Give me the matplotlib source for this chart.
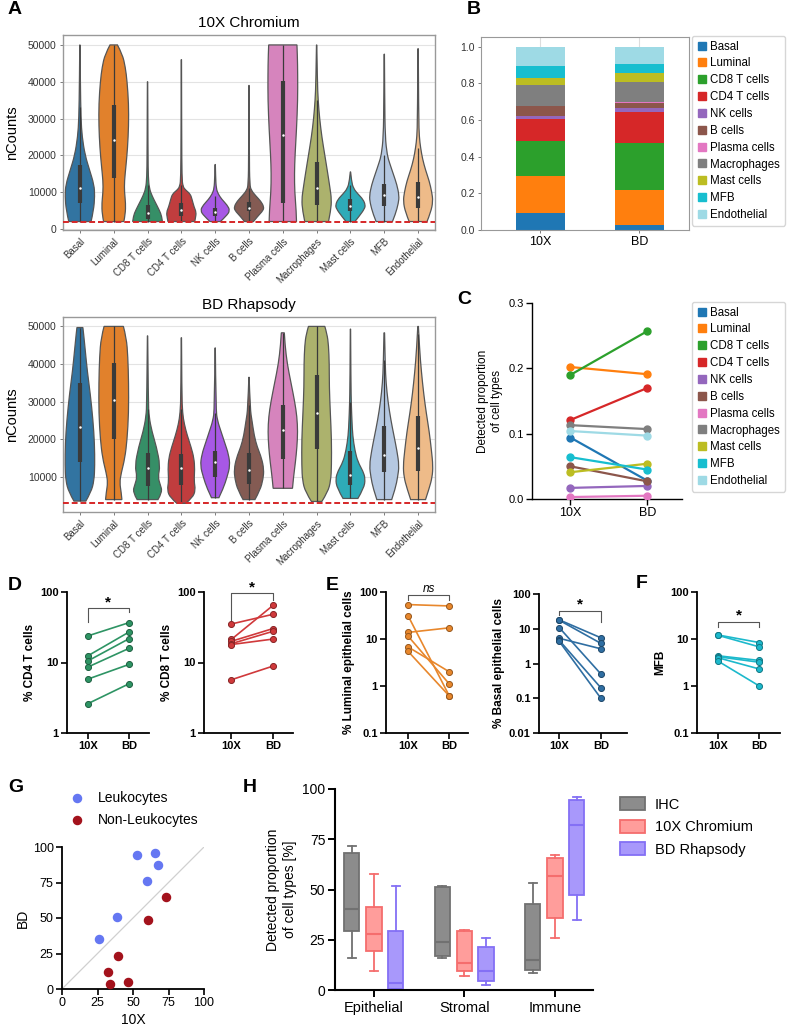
import numpy as np
import matplotlib
matplotlib.use('Agg')
import matplotlib.pyplot as plt
from matplotlib.path import Path
from matplotlib.patches import PathPatch, Patch
from matplotlib.lines import Line2D
import colorsys
import matplotlib.colors as mcolors

plt.rcParams['font.family'] = ['Liberation Sans', 'DejaVu Sans']

# ---------------- DATA ----------------
cell_types = ['Basal', 'Luminal', 'CD8 T cells', 'CD4 T cells', 'NK cells', 'B cells',
              'Plasma cells', 'Macrophages', 'Mast cells', 'MFB', 'Endothelial']

# violin density profiles: (nCounts level, relative half-width)
tenx_shapes = [
    [(2000, .75), (5000, .92), (9000, 1.0), (12000, .95), (16000, .65), (20000, .35), (25000, .15), (30000, .07), (40000, .03), (50000, .01)],
    [(2000, .68), (4000, .78), (7000, .8), (10000, .72), (13000, .72), (17000, .82), (22000, .93), (28000, 1.0), (34000, 1.0), (40000, .9), (44000, .78), (47500, .58), (50000, .25)],
    [(2000, 1.0), (3500, .95), (5000, .8), (7000, .55), (9000, .3), (11000, .12), (14000, .05), (20000, .03), (40000, .01)],
    [(2000, .9), (3000, .95), (4500, 1.0), (6000, .85), (8000, .72), (9500, .6), (10500, .3), (11500, .1), (14000, .04), (25000, .02), (46000, .01)],
    [(2000, .35), (3500, .75), (5000, 1.0), (6500, .8), (8000, .45), (9500, .2), (11000, .07), (14000, .03), (17500, .01)],
    [(2000, .3), (3500, .6), (5000, .95), (6000, 1.0), (7500, .8), (9000, .45), (10500, .15), (12000, .05), (20000, .02), (39000, .01)],
    [(2000, .92), (5000, .9), (10000, .8), (15000, .78), (20000, .82), (27000, .92), (35000, 1.0), (42000, 1.0), (47000, .98), (50000, .95)],
    [(2000, .8), (5000, .95), (8000, 1.0), (11000, .9), (15000, .75), (20000, .55), (25000, .35), (30000, .2), (35000, .1), (40000, .05), (50000, .01)],
    [(2000, .3), (3500, .6), (5500, .95), (6500, 1.0), (8000, .85), (9500, .5), (11000, .2), (13000, .07), (15500, .01)],
    [(2000, .55), (4000, .75), (7000, .95), (9000, 1.0), (12000, .85), (15000, .6), (18000, .35), (20000, .2), (25000, .06), (35000, .03), (47500, .01)],
    [(2000, .6), (4500, .85), (7500, 1.0), (10000, .92), (13000, .75), (16000, .5), (19000, .3), (22000, .17), (25000, .08), (30000, .04), (49000, .01)],
]
tenx_q1 = [7000, 13800, 2800, 3400, 3600, 4800, 7000, 6500, 4800, 6300, 5800]
tenx_median = [11200, 24200, 4400, 5200, 4700, 5700, 25600, 11200, 6300, 9100, 8800]
tenx_q3 = [17400, 33800, 6500, 7000, 5800, 7200, 40300, 18200, 8000, 12300, 12800]
tenx_whislo = [2000, 2000, 2000, 2000, 2000, 2000, 2000, 2000, 2000, 2000, 2000]
tenx_whishi = [33000, 50000, 12000, 12000, 9000, 11000, 50000, 35000, 12000, 20000, 22000]
tenx_threshold = 2000

bd_shapes = [
    [(3600, .4), (6000, .75), (9000, .95), (13000, 1.0), (19000, .98), (25000, .88), (32000, .7), (38000, .5), (44000, .35), (48000, .25), (49700, .2)],
    [(4000, .55), (6000, .5), (8500, .4), (11000, .5), (15000, .75), (20000, .9), (27000, 1.0), (35000, 1.0), (42000, .95), (47000, .85), (50000, .65)],
    [(4000, .7), (6000, 1.0), (8000, .85), (10000, .7), (13000, .85), (18000, .6), (22000, .3), (26000, .1), (30000, .05), (47500, .01)],
    [(3000, .3), (4500, .75), (6500, .95), (9000, .85), (12000, .9), (15000, .85), (18000, .65), (21000, .4), (24000, .2), (27000, .08), (32000, .03), (47000, .01)],
    [(4500, .25), (7000, .55), (10000, .8), (13000, 1.0), (16000, .9), (19000, .65), (22000, .4), (25000, .15), (28000, .05), (44300, .01)],
    [(4000, .4), (6500, .75), (9500, .95), (12000, 1.0), (15000, .85), (18000, .55), (21000, .35), (25000, .2), (28000, .08), (36500, .01)],
    [(7000, .65), (10000, .72), (14000, .85), (18000, .95), (22000, 1.0), (26000, .95), (30000, .8), (35000, .55), (40000, .3), (45000, .15), (48300, .1)],
    [(3500, .35), (6000, .75), (9000, .95), (13000, 1.0), (20000, 1.0), (27000, .92), (34000, .85), (40000, .85), (45000, .8), (48000, .7), (50000, .55)],
    [(4300, .5), (7000, .9), (9500, 1.0), (11500, .85), (14000, .5), (17000, .3), (21000, .15), (25000, .1), (29000, .06), (35000, .03), (49300, .01)],
    [(4000, .5), (7000, .75), (10000, .9), (13000, 1.0), (17000, .85), (21000, .65), (25000, .45), (30000, .25), (35000, .12), (40000, .06), (48300, .02)],
    [(4000, .5), (7000, .75), (10000, .95), (13000, 1.0), (17000, .9), (22000, .75), (27000, .55), (32000, .38), (38000, .22), (44000, .1), (50000, .02)],
]
bd_q1 = [14000, 20000, 7500, 8000, 10000, 8200, 14800, 17500, 8000, 11200, 11500]
bd_median = [23300, 30500, 12300, 12300, 14000, 11800, 22500, 27000, 10500, 15800, 17800]
bd_q3 = [35000, 40200, 16500, 16200, 17000, 16500, 29000, 37200, 17000, 23500, 26200]
bd_whislo = [3600, 4000, 4000, 3000, 4500, 4000, 7000, 3500, 4300, 4000, 4000]
bd_whishi = [49700, 50000, 28000, 28000, 27000, 29000, 48300, 50000, 30000, 41000, 48000]
bd_threshold = 3000

# proportions (panels B and C)
platforms = ['10X', 'BD']
prop_10x = [0.094, 0.202, 0.190, 0.121, 0.017, 0.050, 0.003, 0.113, 0.041, 0.064, 0.104]
prop_bd = [0.028, 0.191, 0.257, 0.170, 0.020, 0.027, 0.005, 0.107, 0.054, 0.045, 0.097]

# paired sample data (panels D-F)
cd4_10x = [23.8, 12.4, 10.5, 8.6, 5.8, 2.6]
cd4_bd = [36.8, 27.1, 21.8, 15.9, 9.4, 5.0]
cd8_10x = [35.2, 21.3, 20.0, 18.5, 18.0, 5.7]
cd8_bd = [48.3, 64.6, 30.3, 27.7, 21.5, 8.9]
lum_10x = [54.0, 31.6, 13.8, 11.6, 6.8, 5.5]
lum_bd = [50.5, 0.61, 17.3, 1.1, 2.0, 0.61]
bas_10x = [18.0, 17.5, 10.7, 5.3, 4.6, 4.3]
bas_bd = [5.5, 3.8, 0.5, 2.65, 0.2, 0.1]
mfb_10x = [12.2, 12.0, 4.4, 4.2, 4.0, 3.4]
mfb_bd = [8.4, 6.8, 3.5, 3.2, 2.3, 1.0]

# panel G
leuko_10x = [26.0, 38.6, 52.9, 60.0, 65.8, 67.4]
leuko_bd = [35.2, 50.9, 94.6, 76.3, 95.8, 87.6]
nonleuko_10x = [32.1, 33.7, 39.1, 46.4, 60.9, 73.5]
nonleuko_bd = [12.2, 3.8, 23.2, 4.9, 48.8, 64.6]

# panel H  (groups: Epithelial, Stromal, Immune)
h_groups = ['Epithelial', 'Stromal', 'Immune']
h_methods = ['IHC', '10X Chromium', 'BD Rhapsody']
ihc_lo = [16.1, 16.0, 8.3]
ihc_q1 = [29.6, 17.1, 10.0]
ihc_med = [40.4, 23.9, 14.8]
ihc_q3 = [68.0, 51.0, 43.0]
ihc_hi = [71.8, 51.8, 53.2]
chr_lo = [9.5, 7.1, 25.9]
chr_q1 = [19.4, 9.6, 36.0]
chr_med = [27.9, 13.6, 56.5]
chr_q3 = [41.2, 29.4, 65.8]
chr_hi = [57.6, 29.9, 67.3]
rha_lo = [0.3, 2.7, 34.9]
rha_q1 = [0.7, 4.3, 47.3]
rha_med = [3.5, 9.6, 81.9]
rha_q3 = [29.4, 21.4, 94.7]
rha_hi = [51.8, 25.9, 96.0]

# ---------------- STYLE ----------------
violin_colors = ['#1f77b4', '#ff7f0e', '#279e68', '#d62728', '#aa40fc', '#8c564b',
                 '#e377c2', '#b5bd61', '#17becf', '#aec7e8', '#ffbb78']
bar_colors = ['#1f77b4', '#ff7f0e', '#2ca02c', '#d62728', '#9467bd', '#8c564b',
              '#e377c2', '#7f7f7f', '#bcbd22', '#17becf', '#9edae5']

W, H = 788, 1035
fig = plt.figure(figsize=(W / 100, H / 100), dpi=100)


def ax_px(l, t, r, b):
    return fig.add_axes([l / W, 1 - b / H, (r - l) / W, (b - t) / H])


def desat(c, prop=0.75):
    r, g, b = mcolors.to_rgb(c)
    h, l, s = colorsys.rgb_to_hls(r, g, b)
    return colorsys.hls_to_rgb(h, l, s * prop)


def smooth_side(pts):
    v, c = [], []
    if len(pts) == 2:
        return [pts[1]], [Path.LINETO]
    for k in range(1, len(pts) - 1):
        end = pts[k + 1] if k == len(pts) - 2 else ((pts[k][0] + pts[k + 1][0]) / 2, (pts[k][1] + pts[k + 1][1]) / 2)
        v += [pts[k], end]
        c += [Path.CURVE3, Path.CURVE3]
    return v, c


MAXW = 0.44


def draw_violin(ax, x, shape, color):
    right = [(x + w * MAXW, y) for y, w in shape]
    left = [(x - w * MAXW, y) for y, w in shape[::-1]]
    rv, rc = smooth_side(right)
    lv, lc = smooth_side(left)
    verts = [right[0]] + rv + [left[0]] + lv + [right[0]]
    codes = [Path.MOVETO] + rc + [Path.LINETO] + lc + [Path.CLOSEPOLY]
    ax.add_patch(PathPatch(Path(verts, codes), facecolor=color, edgecolor='#555555', lw=0.9, zorder=2))


def violin_panel(ax, shapes, q1, med, q3, lo, hi, thr, title, ylim, yticks):
    for i, sh in enumerate(shapes):
        draw_violin(ax, i, sh, desat(violin_colors[i]))
        ax.plot([i, i], [lo[i], hi[i]], color='#3a3a3a', lw=0.9, zorder=3, solid_capstyle='butt')
        ax.plot([i, i], [q1[i], q3[i]], color='#3a3a3a', lw=3.0, zorder=3, solid_capstyle='butt')
        ax.plot(i, med[i], 'o', color='white', ms=1.8, mew=0, zorder=4)
    ax.axhline(thr, color='#d62728', ls=(0, (3, 1.5)), lw=1.4, zorder=5)
    ax.set_xlim(-0.5, 10.5)
    ax.set_ylim(*ylim)
    ax.set_yticks(yticks)
    ax.set_yticklabels([str(t) for t in yticks], fontsize=7.5, color='#333333')
    ax.set_xticks(range(len(cell_types)))
    ax.set_xticklabels(cell_types, rotation=45, ha='right', rotation_mode='anchor', fontsize=7, color='#333333')
    ax.grid(axis='y', color='#e3e3e3', lw=0.8, zorder=0)
    ax.set_axisbelow(True)
    for s in ax.spines.values():
        s.set_color('#999999')
        s.set_linewidth(1.0)
    ax.tick_params(axis='both', length=2.5, width=0.6, color='#666666', pad=2)
    ax.set_ylabel('nCounts', fontsize=10.5, labelpad=6)
    ax.set_title(title, fontsize=11, pad=6)


axA1 = ax_px(63, 35, 435, 230)
violin_panel(axA1, tenx_shapes, tenx_q1, tenx_median, tenx_q3, tenx_whislo, tenx_whishi,
             tenx_threshold, '10X Chromium', (-300, 52700), [0, 10000, 20000, 30000, 40000, 50000])
axA2 = ax_px(63, 317, 435, 512)
violin_panel(axA2, bd_shapes, bd_q1, bd_median, bd_q3, bd_whislo, bd_whishi,
             bd_threshold, 'BD Rhapsody', (700, 52500), [10000, 20000, 30000, 40000, 50000])

# ---------------- B ----------------
axB = ax_px(481, 37, 689, 230)
bottoms = np.zeros(2)
for i, ct in enumerate(cell_types):
    vals = np.array([prop_10x[i], prop_bd[i]])
    axB.bar([0, 1], vals, bottom=bottoms, width=0.5, color=bar_colors[i], label=ct, zorder=2)
    bottoms += vals
axB.set_xlim(-0.6, 1.5)
axB.set_ylim(0, 1.053)
axB.set_xticks([0, 1])
axB.set_xticklabels(platforms, fontsize=9)
axB.set_yticks([0, 0.2, 0.4, 0.6, 0.8, 1.0])
axB.set_yticklabels(['0.0', '0.2', '0.4', '0.6', '0.8', '1.0'], fontsize=7.5, color='#333333')
axB.grid(axis='x', color='#dddddd', lw=0.8, zorder=3)
for s in axB.spines.values():
    s.set_color('#999999')
axB.tick_params(axis='both', length=2.5, width=0.6, color='#666666', pad=2)
hB = [Line2D([], [], marker='s', ls='', color=bar_colors[i], ms=6) for i in range(len(cell_types))]
fig.legend(hB, cell_types, loc='upper left', bbox_to_anchor=(692 / W, 1 - 36 / H), fontsize=8.3,
           handletextpad=0.2, labelspacing=0.42, borderpad=0.4, handlelength=1.0,
           frameon=True, edgecolor='#cccccc', borderaxespad=0)

# ---------------- C ----------------
axC = ax_px(532, 303, 682, 499)
for i, ct in enumerate(cell_types):
    axC.plot([0, 1], [prop_10x[i], prop_bd[i]], '-o', color=bar_colors[i], lw=1.6, ms=5, zorder=3)
axC.set_xlim(-0.5, 1.45)
axC.set_ylim(0, 0.3)
axC.set_yticks([0, 0.1, 0.2, 0.3])
axC.set_yticklabels(['0.0', '0.1', '0.2', '0.3'], fontsize=8)
axC.set_xticks([0, 1])
axC.set_xticklabels(platforms, fontsize=9)
for s in ['top', 'right']:
    axC.spines[s].set_visible(False)
for s in ['left', 'bottom']:
    axC.spines[s].set_linewidth(1.0)
axC.tick_params(axis='both', length=4, width=1.0, pad=2)
axC.set_ylabel('Detected proportion\nof cell types', fontsize=8.5, labelpad=4)
fig.legend(hB, cell_types, loc='upper left', bbox_to_anchor=(692 / W, 1 - 302 / H), fontsize=8.3,
           handletextpad=0.2, labelspacing=0.42, borderpad=0.4, handlelength=1.0,
           frameon=True, edgecolor='#cccccc', borderaxespad=0)


# ---------------- D/E/F ----------------
def darker(c, f=0.65):
    r, g, b = mcolors.to_rgb(c)
    return (r * f, g * f, b * f)


def paired(rect, a, b, color, ylim, yticks, yticklabels, ylabel, xlim, bracket, mark, mark_y, italic=False):
    ax = ax_px(*rect)
    for u, v in zip(a, b):
        ax.plot([0, 1], [u, v], color=color, lw=1.2, zorder=2)
    ax.scatter([0] * len(a), a, s=19, color=color, edgecolors=darker(color), linewidths=0.7, zorder=3, clip_on=False)
    ax.scatter([1] * len(b), b, s=19, color=color, edgecolors=darker(color), linewidths=0.7, zorder=3, clip_on=False)
    ax.set_yscale('log')
    ax.set_ylim(*ylim)
    ax.set_xlim(*xlim)
    ax.set_yticks(yticks)
    ax.set_yticklabels(yticklabels, fontsize=8, fontweight='bold')
    ax.minorticks_off()
    ax.set_xticks([0, 1])
    ax.set_xticklabels(platforms, fontsize=8, fontweight='bold')
    for s in ['top', 'right']:
        ax.spines[s].set_visible(False)
    for s in ['left', 'bottom']:
        ax.spines[s].set_linewidth(1.3)
    ax.tick_params(axis='both', length=4, width=1.2, pad=2)
    ax.set_ylabel(ylabel, fontsize=8.5, fontweight='bold', labelpad=3)
    l0, top, l1 = bracket
    ax.plot([0, 0, 1, 1], [l0, top, top, l1], color='#555555', lw=0.8, clip_on=False, zorder=1)
    if italic:
        ax.text(0.5, mark_y, mark, ha='center', va='center', fontsize=8.5, style='italic')
    else:
        ax.text(0.5, mark_y, mark, ha='center', va='center', fontsize=11, fontweight='bold')
    return ax


paired((67, 592, 149, 733), cd4_10x, cd4_bd, '#2e9464', (1, 100), [1, 10, 100], ['1', '10', '100'],
       '% CD4 T cells', (-0.5, 1.48), (37, 60, 52), '*', 72)
paired((204, 592, 293, 733), cd8_10x, cd8_bd, '#d0393b', (1, 100), [1, 10, 100], ['1', '10', '100'],
       '% CD8 T cells', (-0.66, 1.48), (38, 97, 76), '*', 117)
paired((386, 592, 468, 733), lum_10x, lum_bd, '#e8872c', (0.1, 100), [0.1, 1, 10, 100], ['0.1', '1', '10', '100'],
       '% Luminal epithelial cells', (-0.53, 1.45), (69, 85, 69), 'ns', 115, italic=True)
paired((539, 594, 627, 733), bas_10x, bas_bd, '#2f6ea2', (0.01, 100), [0.01, 0.1, 1, 10, 100],
       ['0.01', '0.1', '1', '10', '100'], '% Basal epithelial cells', (-0.49, 1.63), (25, 32.5, 16), '*', 49)
paired((697, 592, 780, 733), mfb_10x, mfb_bd, '#1cb9cc', (0.1, 100), [0.1, 1, 10, 100], ['0.1', '1', '10', '100'],
       'MFB', (-0.505, 1.5), (17.6, 23, 17.6), '*', 31)

# ---------------- G ----------------
axG = ax_px(62, 847, 204, 989)
axG.plot([0, 100], [0, 100], color='#d0d0d0', lw=0.9, zorder=1)
axG.scatter(leuko_10x, leuko_bd, s=34, color='#6577f2', zorder=3, label='Leukocytes', clip_on=False)
axG.scatter(nonleuko_10x, nonleuko_bd, s=34, color='#a3121c', zorder=3, label='Non-Leukocytes', clip_on=False)
axG.set_xlim(0, 100)
axG.set_ylim(0, 100)
axG.set_xticks([0, 25, 50, 75, 100])
axG.set_yticks([0, 25, 50, 75, 100])
axG.tick_params(axis='both', labelsize=9, length=4, width=1.2, pad=2)
for s in ['top', 'right']:
    axG.spines[s].set_visible(False)
for s in ['left', 'bottom']:
    axG.spines[s].set_linewidth(1.3)
axG.set_xlabel('10X', fontsize=10, labelpad=3)
axG.set_ylabel('BD', fontsize=10, labelpad=2)
fig.legend(*axG.get_legend_handles_labels(), loc='upper left', bbox_to_anchor=(63 / W, 1 - 791 / H),
           fontsize=10, frameon=False, handletextpad=0.5, labelspacing=0.55, borderaxespad=0,
           borderpad=0, scatterpoints=1, markerscale=1.0)

# ---------------- H ----------------
axH = ax_px(335, 789, 593, 990)
method_stats = [(ihc_lo, ihc_q1, ihc_med, ihc_q3, ihc_hi),
                (chr_lo, chr_q1, chr_med, chr_q3, chr_hi),
                (rha_lo, rha_q1, rha_med, rha_q3, rha_hi)]
h_fill = ['#8c8c8c', '#ff9d9b', '#a898fb']
h_edge = ['#717171', '#f56d6d', '#8470f5']
offsets = [-0.245, 0.0, 0.24]
for m, (lo, q1, med, q3, hi) in enumerate(method_stats):
    stats = [dict(whislo=lo[g], q1=q1[g], med=med[g], q3=q3[g], whishi=hi[g]) for g in range(3)]
    pos = [g + offsets[m] for g in range(3)]
    axH.bxp(stats, positions=pos, widths=0.17, patch_artist=True, showfliers=False,
            boxprops=dict(facecolor=h_fill[m], edgecolor=h_edge[m], lw=1.3),
            medianprops=dict(color=h_edge[m], lw=1.5),
            whiskerprops=dict(color=h_edge[m], lw=1.3),
            capprops=dict(color=h_edge[m], lw=1.3), capwidths=0.09, manage_ticks=False)
axH.set_xlim(-0.43, 2.42)
axH.set_ylim(0, 100)
axH.set_yticks([0, 25, 50, 75, 100])
axH.set_xticks([0, 1, 2])
axH.set_xticklabels(h_groups, fontsize=10.5)
axH.tick_params(axis='y', labelsize=10, length=5, width=1.4, pad=2)
axH.tick_params(axis='x', length=5, width=1.4, pad=3)
for s in ['top', 'right']:
    axH.spines[s].set_visible(False)
for s in ['left', 'bottom']:
    axH.spines[s].set_linewidth(1.5)
axH.set_ylabel('Detected proportion\nof cell types [%]', fontsize=10, labelpad=4)
hH = [Patch(facecolor=h_fill[m], edgecolor=h_edge[m], lw=1.3) for m in range(3)]
fig.legend(hH, h_methods, loc='upper left', bbox_to_anchor=(620 / W, 1 - 797 / H), fontsize=10.5,
           frameon=False, handlelength=1.7, handleheight=1.0, handletextpad=0.7, labelspacing=0.55,
           borderaxespad=0, borderpad=0)

# ---------------- panel letters ----------------
for letter, x, y in [('A', 8, 10), ('B', 467, 9), ('C', 457, 300), ('D', 8, 585), ('E', 326, 585),
                     ('F', 636, 583), ('G', 8, 788), ('H', 243, 788)]:
    fig.text(x / W, 1 - y / H, letter, fontsize=14, fontweight='bold', va='center', ha='left')

fig.savefig('out.png', dpi=100)
